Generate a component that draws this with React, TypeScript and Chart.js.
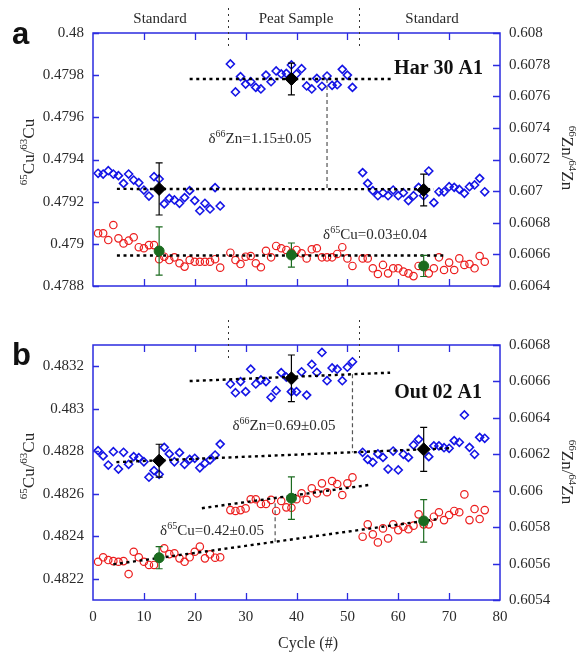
import React, { useEffect, useRef } from "react";
import { Chart, registerables } from "chart.js";
Chart.register(...registerables);

const SERIF = '"Liberation Serif", "Times New Roman", serif';
const SANS = '"Liberation Sans", Arial, sans-serif';
const AXIS_BLUE = "#2b2be0";
const BLUE = "#1414e6";
const RED = "#ec1d1d";
const GREEN = "#1b6b1f";
const TEXT = "#2a2a2a";

// ---------- shared categories / ticks ----------
const cyclesStd1 = [1, 2, 3, 4, 5, 6, 7, 8, 9, 10, 11, 12, 13, 14, 15, 16, 17, 18, 19, 20, 21, 22, 23, 24, 25];
const cyclesPeat = [27, 28, 29, 30, 31, 32, 33, 34, 35, 36, 37, 38, 39, 40, 41, 42, 43, 44, 45, 46, 47, 48, 49, 50, 51];
const cyclesStd2 = [53, 54, 55, 56, 57, 58, 59, 60, 61, 62, 63, 64, 65, 66, 67, 68, 69, 70, 71, 72, 73, 74, 75, 76, 77];
const meanCycles = [13, 39, 65];
const xTicks = [0, 10, 20, 30, 40, 50, 60, 70, 80];
const sectionLabels = ["Standard", "Peat Sample", "Standard"];
const sectionBounds = [26.5, 52.3];

// ---------- panel a ----------
const yLeftTicksA = [0.4788, 0.479, 0.4792, 0.4794, 0.4796, 0.4798, 0.48];
const yRightTicksA = [0.6064, 0.6066, 0.6068, 0.607, 0.6072, 0.6074, 0.6076, 0.6078, 0.608];

const znA_std1 = [0.607113, 0.607108, 0.607129, 0.607108, 0.607098, 0.607049, 0.607108, 0.60707, 0.607053, 0.607007, 0.606969, 0.607091, 0.607077, 0.606919, 0.606954, 0.606944, 0.606923, 0.606959, 0.607003, 0.60694, 0.606876, 0.606923, 0.606887, 0.607022, 0.606906];
const znA_peat = [0.607804, 0.607627, 0.607724, 0.607677, 0.607692, 0.607656, 0.607646, 0.607734, 0.607692, 0.60776, 0.607741, 0.607745, 0.607798, 0.607741, 0.607774, 0.607665, 0.607646, 0.607713, 0.607663, 0.607728, 0.607669, 0.607673, 0.60777, 0.607734, 0.607656];
const znA_std2 = [0.607117, 0.607049, 0.607003, 0.606971, 0.60699, 0.606971, 0.607007, 0.606971, 0.60699, 0.60694, 0.606971, 0.607024, 0.606971, 0.607127, 0.606927, 0.606996, 0.606996, 0.607028, 0.607024, 0.607011, 0.606986, 0.607028, 0.607039, 0.607081, 0.606996];
const cuA_std1 = [0.47905, 0.47905, 0.479018, 0.479089, 0.479026, 0.479002, 0.479015, 0.479031, 0.478984, 0.478979, 0.478994, 0.478994, 0.478927, 0.478939, 0.478923, 0.478936, 0.478908, 0.478892, 0.478923, 0.478915, 0.478915, 0.478915, 0.478915, 0.478927, 0.478887];
const cuA_peat = [0.478958, 0.478923, 0.478904, 0.478939, 0.478942, 0.478908, 0.478889, 0.478967, 0.478936, 0.47899, 0.478979, 0.478971, 0.478957, 0.478971, 0.478955, 0.478931, 0.478974, 0.478979, 0.478936, 0.478936, 0.478936, 0.478952, 0.478984, 0.478931, 0.478895];
const cuA_std2 = [0.478931, 0.478931, 0.478884, 0.478857, 0.4789, 0.47886, 0.478884, 0.478884, 0.478868, 0.47886, 0.478847, 0.478895, 0.478892, 0.47886, 0.478884, 0.478936, 0.478876, 0.478911, 0.478876, 0.478931, 0.4789, 0.478904, 0.478884, 0.478942, 0.478915];
const znMeanA = [0.607014, 0.607709, 0.607007];
const znErrA = [0.000165, 0.0001, 0.0001];
const cuMeanA = [0.478966, 0.478947, 0.478895];
const cuErrA = [0.000114, 0.000057, 0.00005];
const znStdLineA = [{ x: 4.7, y: 0.607014 }, { x: 67, y: 0.607012 }];
const znPeatLineA = [{ x: 19, y: 0.607709 }, { x: 58.5, y: 0.607709 }];
const cuLineA = [{ x: 4.7, y: 0.478945 }, { x: 69.5, y: 0.478945 }];
const znDeltaLinkA = [{ x: 46, y: 0.607709 }, { x: 46, y: 0.607014 }];

// ---------- panel b ----------
const yLeftTicksB = [0.4822, 0.4824, 0.4826, 0.4828, 0.483, 0.4832];
const yRightTicksB = [0.6054, 0.6056, 0.6058, 0.606, 0.6062, 0.6064, 0.6066, 0.6068];

const znB_std1 = [0.60622, 0.606191, 0.606141, 0.606214, 0.606119, 0.606211, 0.606145, 0.606187, 0.606181, 0.606159, 0.606074, 0.60611, 0.60609, 0.606238, 0.606202, 0.606159, 0.606209, 0.606145, 0.606172, 0.606178, 0.606126, 0.606151, 0.606169, 0.606196, 0.606256];
const znB_peat = [0.606586, 0.606538, 0.606599, 0.606544, 0.606667, 0.606586, 0.606608, 0.606599, 0.606513, 0.606549, 0.606648, 0.606624, 0.606544, 0.606544, 0.606653, 0.606525, 0.606693, 0.606649, 0.606759, 0.606604, 0.606674, 0.606667, 0.606604, 0.606678, 0.606708];
const znB_std2 = [0.606211, 0.606172, 0.606156, 0.606202, 0.606183, 0.606119, 0.606218, 0.606114, 0.6062, 0.606183, 0.606251, 0.606282, 0.606227, 0.606187, 0.606246, 0.606246, 0.606236, 0.606233, 0.606275, 0.606266, 0.606416, 0.606238, 0.6062, 0.606293, 0.606288];
const cuB_std1 = [0.48228, 0.482301, 0.482288, 0.482283, 0.48228, 0.482283, 0.482222, 0.482327, 0.482301, 0.48228, 0.482265, 0.482265, 0.482299, 0.482343, 0.482316, 0.48232, 0.482296, 0.48228, 0.482301, 0.482327, 0.482351, 0.482296, 0.482315, 0.482299, 0.482301];
const cuB_peat = [0.482523, 0.482519, 0.482523, 0.482531, 0.482574, 0.482574, 0.482552, 0.482552, 0.482571, 0.482519, 0.482566, 0.482536, 0.482534, 0.482574, 0.482602, 0.482571, 0.482626, 0.482602, 0.482649, 0.482607, 0.48266, 0.482646, 0.482594, 0.482649, 0.482677];
const cuB_std2 = [0.482398, 0.482456, 0.482409, 0.482371, 0.482437, 0.48239, 0.482456, 0.482429, 0.482445, 0.482433, 0.48245, 0.482503, 0.482456, 0.482456, 0.482492, 0.482513, 0.482476, 0.4825, 0.482519, 0.482513, 0.482597, 0.482476, 0.482528, 0.482481, 0.482523];
const znMeanB = [0.606165, 0.606617, 0.606227];
const znErrB = [0.00009, 0.000128, 0.000121];
const cuMeanB = [0.482299, 0.482579, 0.482472];
const cuErrB = [0.000052, 0.0001, 0.0001];
const znStdLineB = [{ x: 4.6, y: 0.606157 }, { x: 70, y: 0.606233 }];
const znPeatLineB = [{ x: 19, y: 0.606602 }, { x: 58.4, y: 0.606648 }];
const cuStdLineB = [{ x: 4, y: 0.482268 }, { x: 67.5, y: 0.48248 }];
const cuPeatLineB = [{ x: 21.4, y: 0.482532 }, { x: 54.1, y: 0.482641 }];
const znDeltaLinkB = [{ x: 51, y: 0.606639 }, { x: 51, y: 0.60621 }];
const cuDeltaLinkB = [{ x: 35.8, y: 0.482555 }, { x: 35.8, y: 0.482374 }];

// ---------- helpers ----------
const pts = (xs: number[], ys: number[]) => xs.map((x, i) => ({ x, y: ys[i] }));
const fmtTick = (v: number | string) => String(parseFloat(Number(v).toFixed(4)));

type Part = { t: string; sup: boolean };
function parseRich(s: string): Part[] {
  const out: Part[] = [];
  const re = /\^\{([^}]*)\}/g;
  let last = 0;
  let m: RegExpExecArray | null;
  while ((m = re.exec(s))) {
    if (m.index > last) out.push({ t: s.slice(last, m.index), sup: false });
    out.push({ t: m[1], sup: true });
    last = m.index + m[0].length;
  }
  if (last < s.length) out.push({ t: s.slice(last), sup: false });
  return out;
}

function drawRich(
  ctx: CanvasRenderingContext2D,
  text: string,
  x: number,
  y: number,
  align: "left" | "center" | "right",
  size: number,
  family: string,
  weight = "normal",
  color = TEXT
) {
  const parts = parseRich(text);
  const supSize = Math.round(size * 0.64);
  const rise = size * 0.42;
  let total = 0;
  const widths = parts.map((p) => {
    ctx.font = `${weight} ${p.sup ? supSize : size}px ${family}`;
    const w = ctx.measureText(p.t).width;
    total += w;
    return w;
  });
  let cx = align === "center" ? x - total / 2 : align === "right" ? x - total : x;
  ctx.fillStyle = color;
  ctx.textAlign = "left";
  ctx.textBaseline = "alphabetic";
  parts.forEach((p, i) => {
    ctx.font = `${weight} ${p.sup ? supSize : size}px ${family}`;
    ctx.fillText(p.t, cx, p.sup ? y - rise : y);
    cx += widths[i];
  });
}

type TextItem = { text: string; x: number; y: number; align: "left" | "center" | "right"; size: number; family: string; weight?: string };

type PanelSpec = {
  height: number;
  padTop: number;
  xAxisH: number;
  showX: boolean;
  yL: { min: number; max: number; ticks: number[] };
  yR: { min: number; max: number; ticks: number[] };
  zn: { x: number; y: number }[];
  cu: { x: number; y: number }[];
  znMean: number[];
  znErr: number[];
  cuMean: number[];
  cuErr: number[];
  znLines: { x: number; y: number }[][];
  cuLines: { x: number; y: number }[][];
  znLinks: { x: number; y: number }[][];
  cuLinks: { x: number; y: number }[][];
  texts: TextItem[];
  dividerY: [number, number];
  leftTitleY: number;
  rightTitleY: number;
  xTitle: boolean;
};

function buildChart(canvas: HTMLCanvasElement, s: PanelSpec) {
  const lineDs = (data: any[], axis: string) => ({
    data,
    yAxisID: axis,
    showLine: true,
    pointRadius: 0,
    borderColor: "#000",
    borderWidth: 2.4,
    borderDash: [3, 3.6],
    borderCapStyle: "butt",
    fill: false,
  });
  const linkDs = (data: any[], axis: string) => ({
    data,
    yAxisID: axis,
    showLine: true,
    pointRadius: 0,
    borderColor: "#555",
    borderWidth: 1.2,
    borderDash: [4, 3],
    fill: false,
  });

  const datasets: any[] = [
    {
      data: pts(meanCycles, s.znMean),
      yAxisID: "yR",
      pointStyle: "rectRot",
      pointRadius: 6.5,
      backgroundColor: "#000",
      borderColor: "#000",
      borderWidth: 1,
    },
    {
      data: pts(meanCycles, s.cuMean),
      yAxisID: "yL",
      pointStyle: "circle",
      pointRadius: 5,
      backgroundColor: GREEN,
      borderColor: GREEN,
      borderWidth: 1,
    },
    ...s.znLines.map((l) => lineDs(l, "yR")),
    ...s.cuLines.map((l) => lineDs(l, "yL")),
    ...s.znLinks.map((l) => linkDs(l, "yR")),
    ...s.cuLinks.map((l) => linkDs(l, "yL")),
    {
      data: s.zn,
      yAxisID: "yR",
      pointStyle: "rectRot",
      pointRadius: 4,
      borderColor: BLUE,
      backgroundColor: "rgba(255,255,255,0)",
      borderWidth: 1.6,
    },
    {
      data: s.cu,
      yAxisID: "yL",
      pointStyle: "circle",
      pointRadius: 3.7,
      borderColor: RED,
      backgroundColor: "rgba(255,255,255,0)",
      borderWidth: 1.2,
    },
  ];

  const extras = {
    id: "extras",
    afterDatasetsDraw(chart: any) {
      const ctx: CanvasRenderingContext2D = chart.ctx;
      const { left, right, top, bottom } = chart.chartArea;
      const xs = chart.scales.x;
      const yl = chart.scales.yL;
      const yr = chart.scales.yR;
      ctx.save();
      // error bars
      const bars = [
        { sc: yr, m: s.znMean, e: s.znErr, c: "#000" },
        { sc: yl, m: s.cuMean, e: s.cuErr, c: GREEN },
      ];
      bars.forEach((b) => {
        meanCycles.forEach((cx, i) => {
          const px = xs.getPixelForValue(cx);
          const p1 = b.sc.getPixelForValue(b.m[i] + b.e[i]);
          const p2 = b.sc.getPixelForValue(b.m[i] - b.e[i]);
          ctx.strokeStyle = b.c;
          ctx.lineWidth = 1.2;
          ctx.setLineDash([]);
          ctx.beginPath();
          ctx.moveTo(px, p1);
          ctx.lineTo(px, p2);
          ctx.moveTo(px - 3.5, p1);
          ctx.lineTo(px + 3.5, p1);
          ctx.moveTo(px - 3.5, p2);
          ctx.lineTo(px + 3.5, p2);
          ctx.stroke();
        });
      });
      // frame
      ctx.strokeStyle = AXIS_BLUE;
      ctx.lineWidth = 1.5;
      ctx.strokeRect(left, top, right - left, bottom - top);
      ctx.lineWidth = 1.3;
      ctx.beginPath();
      xTicks.forEach((v) => {
        if (v === xs.min || v === xs.max) return;
        const px = Math.round(xs.getPixelForValue(v)) + 0.5;
        ctx.moveTo(px, top);
        ctx.lineTo(px, top + 7);
        ctx.moveTo(px, bottom);
        ctx.lineTo(px, bottom - 7);
      });
      s.yL.ticks.forEach((v) => {
        const py = Math.round(yl.getPixelForValue(v)) + 0.5;
        ctx.moveTo(left, py);
        ctx.lineTo(left + 6, py);
      });
      s.yR.ticks.forEach((v) => {
        const py = Math.round(yr.getPixelForValue(v)) + 0.5;
        ctx.moveTo(right, py);
        ctx.lineTo(right - 7, py);
      });
      ctx.stroke();

      // section dividers
      ctx.strokeStyle = "#333";
      ctx.lineWidth = 1;
      ctx.setLineDash([2, 4]);
      ctx.beginPath();
      sectionBounds.forEach((b) => {
        const px = Math.round(xs.getPixelForValue(b)) + 0.5;
        ctx.moveTo(px, s.dividerY[0]);
        ctx.lineTo(px, s.dividerY[1]);
      });
      ctx.stroke();
      ctx.setLineDash([]);

      // texts
      s.texts.forEach((t) => drawRich(ctx, t.text, t.x, t.y, t.align, t.size, t.family, t.weight || "normal", t.weight === "bold" ? "#111" : TEXT));

      // axis titles
      ctx.save();
      ctx.translate(34, s.leftTitleY);
      ctx.rotate(-Math.PI / 2);
      drawRich(ctx, "^{65}Cu/^{63}Cu", 0, 0, "center", 17, SERIF);
      ctx.restore();
      ctx.save();
      ctx.translate(562, s.rightTitleY);
      ctx.rotate(Math.PI / 2);
      drawRich(ctx, "^{66}Zn/^{64}Zn", 0, 0, "center", 17, SERIF);
      ctx.restore();

      if (s.xTitle) {
        drawRich(ctx, "Cycle (#)", 308, s.height - 6, "center", 16, SERIF);
      }
      ctx.restore();
    },
  };

  const yAxis = (pos: "left" | "right", cfg: { min: number; max: number; ticks: number[] }, w: number) => ({
    type: "linear",
    position: pos,
    min: cfg.min,
    max: cfg.max,
    grid: { display: false, drawTicks: false },
    border: { display: false },
    ticks: {
      padding: 9,
      color: TEXT,
      font: { family: SERIF, size: 15 },
      callback: (v: any) => fmtTick(v),
    },
    afterBuildTicks: (sc: any) => {
      sc.ticks = cfg.ticks.map((v) => ({ value: v }));
    },
    afterFit: (sc: any) => {
      sc.width = w;
    },
  });

  return new Chart(canvas, {
    type: "scatter",
    data: { datasets },
    options: {
      responsive: false,
      animation: false,
      devicePixelRatio: 1,
      layout: { padding: { top: s.padTop, left: 0, right: 0, bottom: 0 } },
      plugins: { legend: { display: false }, tooltip: { enabled: false } },
      scales: {
        x: {
          type: "linear",
          position: "bottom",
          min: 0,
          max: 80,
          grid: { display: false, drawTicks: false },
          border: { display: false },
          ticks: {
            display: s.showX,
            padding: 8,
            color: TEXT,
            font: { family: SERIF, size: 15 },
            maxRotation: 0,
          },
          afterBuildTicks: (sc: any) => {
            sc.ticks = xTicks.map((v) => ({ value: v }));
          },
          afterFit: (sc: any) => {
            sc.height = s.xAxisH;
          },
        },
        yL: yAxis("left", s.yL, 93),
        yR: yAxis("right", s.yR, 80),
      } as any,
    },
    plugins: [extras as any],
  } as any);
}

const panelA: PanelSpec = {
  height: 320,
  padTop: 33,
  xAxisH: 34,
  showX: false,
  yL: { min: 0.4788, max: 0.48, ticks: yLeftTicksA },
  yR: { min: 0.6064, max: 0.608, ticks: yRightTicksA },
  zn: [...pts(cyclesStd1, znA_std1), ...pts(cyclesPeat, znA_peat), ...pts(cyclesStd2, znA_std2)],
  cu: [...pts(cyclesStd1, cuA_std1), ...pts(cyclesPeat, cuA_peat), ...pts(cyclesStd2, cuA_std2)],
  znMean: znMeanA,
  znErr: znErrA,
  cuMean: cuMeanA,
  cuErr: cuErrA,
  znLines: [znStdLineA, znPeatLineA],
  cuLines: [cuLineA],
  znLinks: [znDeltaLinkA],
  cuLinks: [],
  texts: [
    { text: "a", x: 12, y: 44, align: "left", size: 31, family: SANS, weight: "bold" },
    { text: sectionLabels[0], x: 160, y: 23, align: "center", size: 15, family: SERIF },
    { text: sectionLabels[1], x: 296, y: 23, align: "center", size: 15, family: SERIF },
    { text: sectionLabels[2], x: 432, y: 23, align: "center", size: 15, family: SERIF },
    { text: "Har 30 A1", x: 483, y: 74, align: "right", size: 20, family: SERIF, weight: "bold" },
    { text: "δ^{66}Zn=1.15±0.05", x: 260, y: 143, align: "center", size: 15, family: SERIF },
    { text: "δ^{65}Cu=0.03±0.04", x: 375, y: 239, align: "center", size: 15, family: SERIF },
  ],
  dividerY: [8, 47],
  leftTitleY: 152,
  rightTitleY: 158,
  xTitle: false,
};

const panelB: PanelSpec = {
  height: 334,
  padTop: 25,
  xAxisH: 54,
  showX: true,
  yL: { min: 0.4821, max: 0.4833, ticks: yLeftTicksB },
  yR: { min: 0.6054, max: 0.6068, ticks: yRightTicksB },
  zn: [...pts(cyclesStd1, znB_std1), ...pts(cyclesPeat, znB_peat), ...pts(cyclesStd2, znB_std2)],
  cu: [...pts(cyclesStd1, cuB_std1), ...pts(cyclesPeat, cuB_peat), ...pts(cyclesStd2, cuB_std2)],
  znMean: znMeanB,
  znErr: znErrB,
  cuMean: cuMeanB,
  cuErr: cuErrB,
  znLines: [znStdLineB, znPeatLineB],
  cuLines: [cuStdLineB, cuPeatLineB],
  znLinks: [znDeltaLinkB],
  cuLinks: [cuDeltaLinkB],
  texts: [
    { text: "b", x: 12, y: 45, align: "left", size: 31, family: SANS, weight: "bold" },
    { text: "Out 02 A1", x: 482, y: 78, align: "right", size: 20, family: SERIF, weight: "bold" },
    { text: "δ^{66}Zn=0.69±0.05", x: 284, y: 110, align: "center", size: 15, family: SERIF },
    { text: "δ^{65}Cu=0.42±0.05", x: 212, y: 215, align: "center", size: 15, family: SERIF },
  ],
  dividerY: [0, 40],
  leftTitleY: 146,
  rightTitleY: 152,
  xTitle: true,
};

function Panel({ spec }: { spec: PanelSpec }) {
  const ref = useRef<HTMLCanvasElement | null>(null);
  useEffect(() => {
    if (!ref.current) return;
    const chart = buildChart(ref.current, spec);
    return () => chart.destroy();
  }, [spec]);
  return <canvas ref={ref} width={580} height={spec.height} style={{ display: "block", width: 580, height: spec.height }} />;
}

export default function App() {
  return (
    <div style={{ position: "absolute", left: 0, top: 0, width: 580, height: 654, background: "#fff" }}>
      <Panel spec={panelA} />
      <Panel spec={panelB} />
    </div>
  );
}
